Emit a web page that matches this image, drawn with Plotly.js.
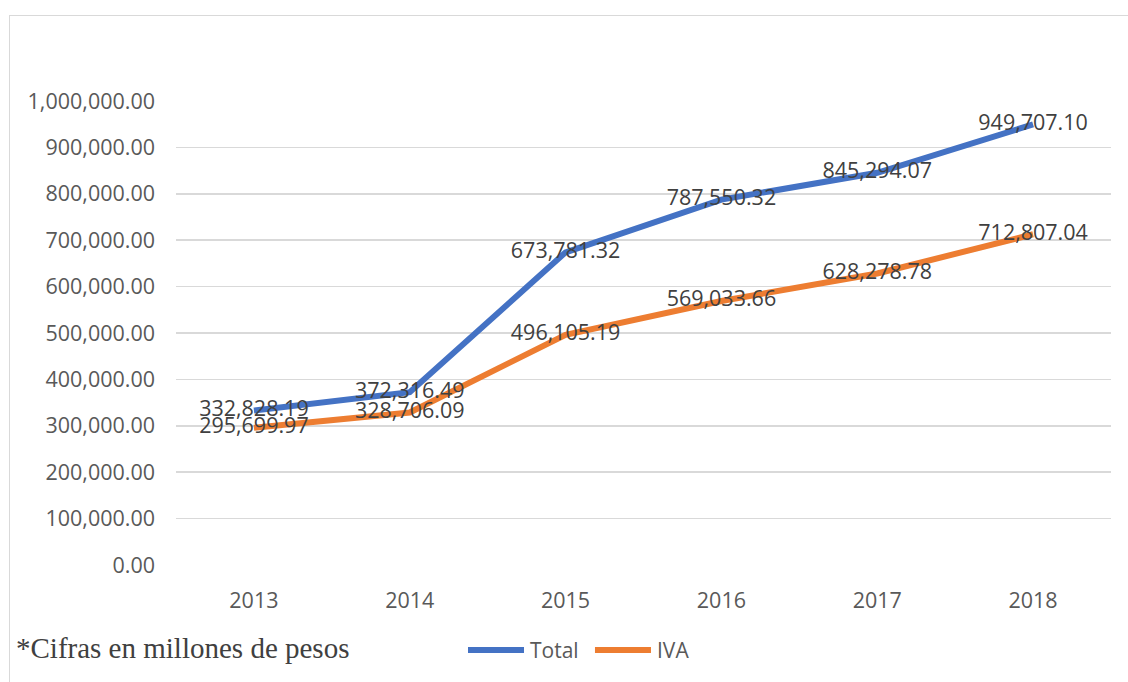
<!DOCTYPE html>
<html>
<head>
<meta charset="utf-8">
<script src="https://cdn.plot.ly/plotly-3.0.1.min.js"></script>
<style>
  html, body { margin: 0; padding: 0; background: #fff; }
  #chart { width: 1128px; height: 682px; }
  #frame { position: absolute; left: 9px; top: 15px; right: 0; bottom: 0;
           border-left: 1.5px solid #d9d9d9; border-top: 1.5px solid #d9d9d9;
           pointer-events: none; }
</style>
</head>
<body>
<div id="chart"></div>
<div id="frame"></div>
<script>
const years = ['2013', '2014', '2015', '2016', '2017', '2018'];
const totalValues = [332828.19, 372316.49, 673781.32, 787550.32, 845294.07, 949707.10];
const ivaValues = [295699.97, 328706.09, 496105.19, 569033.66, 628278.78, 712807.04];
const seriesNames = ['Total', 'IVA'];
const seriesColors = ['#4472C4', '#ED7D31'];
const footnote = '*Cifras en millones de pesos';

const labelFont = { family: 'Open Sans, sans-serif', size: 21.5, color: '#404040' };
const seriesValues = [totalValues, ivaValues];

// Lines first, then data labels on top of all lines
const lineTraces = seriesValues.map((vals, i) => ({
  x: years, y: vals, name: seriesNames[i], type: 'scatter', mode: 'lines',
  line: { color: seriesColors[i], width: 6 },
  cliponaxis: false, hoverinfo: 'skip', showlegend: false
}));
const labelTraces = seriesValues.map((vals, i) => ({
  x: years, y: vals, name: seriesNames[i] + ' labels', type: 'scatter', mode: 'text',
  texttemplate: '%{y:,.2f}', textposition: 'middle center', textfont: labelFont,
  cliponaxis: false, hoverinfo: 'skip', showlegend: false
}));
const traces = lineTraces.concat(labelTraces);

// Custom legend (longer line swatches like the reference)
const legendX = [[0.3123, 0.3722, 0.3765], [0.4481, 0.5080, 0.5123]];
const legendY = -0.1832;
const shapes = legendX.map((p, i) => ({
  type: 'line', xref: 'paper', yref: 'paper', x0: p[0], x1: p[1], y0: legendY, y1: legendY,
  line: { color: seriesColors[i], width: 6 }
}));
const annotations = legendX.map((p, i) => ({
  text: seriesNames[i], xref: 'paper', yref: 'paper', x: p[2], y: legendY,
  xanchor: 'left', yanchor: 'middle', showarrow: false,
  font: { family: 'Open Sans, sans-serif', size: 21, color: '#595959' }
}));
annotations.push({
  text: footnote, xref: 'paper', yref: 'paper', x: -0.1735, y: -0.179,
  xanchor: 'left', yanchor: 'middle', showarrow: false,
  font: { family: 'Liberation Serif, Times New Roman, serif', size: 29, color: '#404040' }
});

const layout = {
  width: 1128, height: 682,
  margin: { l: 176, r: 17, t: 101, b: 117 },
  paper_bgcolor: '#ffffff', plot_bgcolor: '#ffffff',
  font: { family: 'Open Sans, sans-serif', size: 21, color: '#595959' },
  showlegend: false,
  xaxis: {
    type: 'category', range: [-0.5, 5.5], showgrid: false, zeroline: false, showline: false,
    ticks: '', ticklabelstandoff: 20, tickfont: { size: 21.5, color: '#595959' }, fixedrange: true
  },
  yaxis: {
    range: [0, 1000000], dtick: 100000, tickformat: ',.2f', showgrid: true,
    gridcolor: '#d9d9d9', gridwidth: 1.5, zeroline: false, showline: false,
    ticks: '', ticklabelstandoff: 20, tickfont: { size: 21.5, color: '#595959' }, fixedrange: true
  },
  shapes: shapes,
  annotations: annotations
};

Plotly.newPlot('chart', traces, layout, { staticPlot: true, displayModeBar: false });
</script>
</body>
</html>
